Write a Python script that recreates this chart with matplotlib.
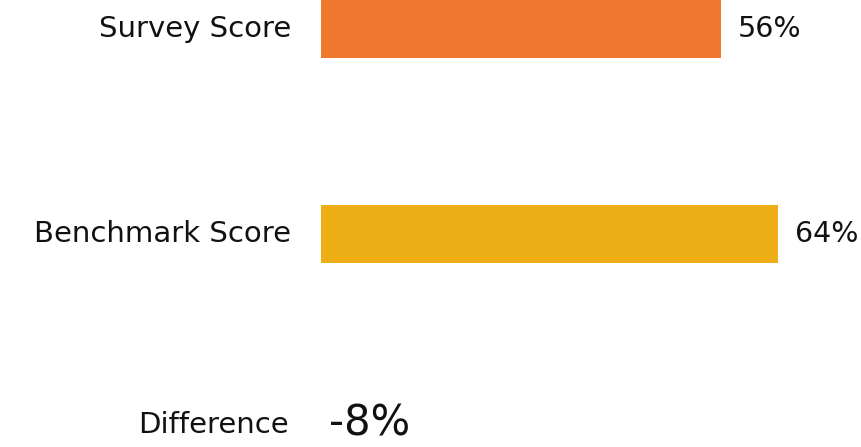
import matplotlib
matplotlib.use("Agg")
import matplotlib.pyplot as plt

categories = ["Survey Score", "Benchmark Score"]
scores = [56, 64]
colors = ["#F0782E", "#EEAE16"]
difference_label = "Difference"
difference = scores[0] - scores[1]

plt.rcParams["font.family"] = ["DejaVu Sans"]

W, H = 861, 447
fig = plt.figure(figsize=(W / 100, H / 100), dpi=100)
left_px = 321
ax = fig.add_axes([left_px / W, 0, (W - left_px) / W, 1])

px_per_unit = 7.14
ax.set_xlim(0, (W - left_px) / px_per_unit)
row_px = 205
ax.set_ylim((H - 29) / row_px, -29 / row_px)

ypos = list(range(len(categories)))
ax.barh(ypos, scores, height=58 / row_px, color=colors, edgecolor="none")

label_size = 21
for y, cat, v in zip(ypos, categories, scores):
    ax.annotate(cat, xy=(0, y), xytext=(-21.5, 0), textcoords="offset points",
                ha="right", va="center", fontsize=label_size, color="#111111")
    ax.annotate(f"{v}%", xy=(v, y), xytext=(12, 0), textcoords="offset points",
                ha="left", va="center", fontsize=label_size - 0.5, color="#111111")

y_diff = (425 - 29) / row_px
ax.annotate(difference_label, xy=(0, y_diff), xytext=(-23.5, 0), textcoords="offset points",
            ha="right", va="center", fontsize=label_size, color="#111111")
ax.annotate(f"{difference}%", xy=(0, y_diff), xytext=(6, 1), textcoords="offset points",
            ha="left", va="center", fontsize=30, color="#111111")

ax.axis("off")
fig.savefig("out.png", dpi=100)
